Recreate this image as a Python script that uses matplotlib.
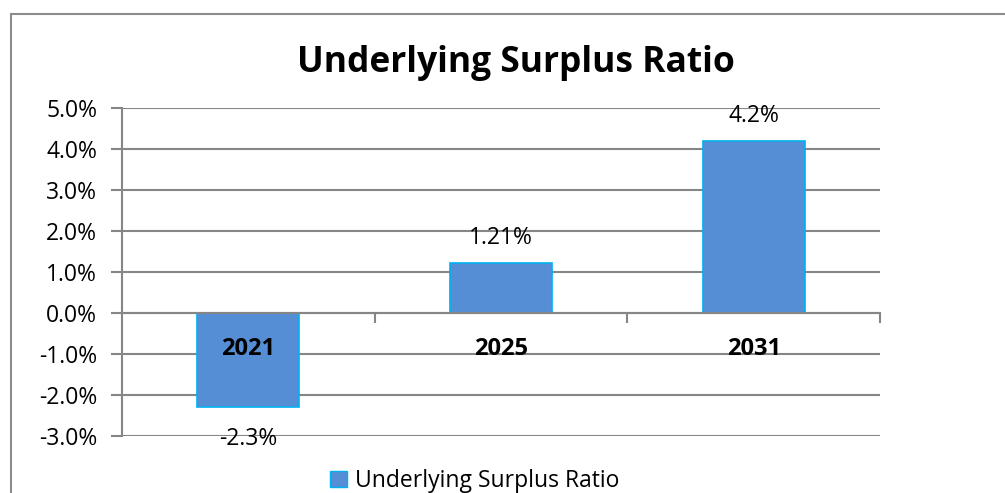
import matplotlib
matplotlib.use("Agg")
import matplotlib.pyplot as plt
from matplotlib.patches import Rectangle, Patch
from matplotlib.ticker import FuncFormatter

plt.rcParams["font.family"] = ["Open Sans", "DejaVu Sans"]

years = ["2021", "2025", "2031"]
ratio = [-2.3, 1.21, 4.2]
value_labels = ["-2.3%", "1.21%", "4.2%"]

BAR = "#558ED5"
EDGE = "#00B0F0"
GRID = "#868686"

fig = plt.figure(figsize=(10.05, 4.93), dpi=100)
fig.patch.set_facecolor("white")
fig.patches.append(Rectangle((11 / 1005, -0.1), 1.2, 1.1 - 14 / 493,
                             transform=fig.transFigure, fill=False,
                             edgecolor="#8c8c8c", linewidth=1.5))

ax = fig.add_axes([122 / 1005, 1 - 436 / 493, 758 / 1005, 328 / 493])
x = list(range(len(years)))
ax.bar(x, ratio, width=0.405, color=BAR, edgecolor=EDGE, linewidth=1.2, zorder=3)

ax.set_xlim(-0.5, 2.5)
ax.set_ylim(-3, 5)
ax.set_yticks(range(-3, 6))
ax.yaxis.set_major_formatter(FuncFormatter(lambda v, _: f"{v:.1f}%"))
ax.grid(axis="y", color=GRID, linewidth=1.5, zorder=0)
ax.set_axisbelow(True)

for s in ["top", "right"]:
    ax.spines[s].set_visible(False)
ax.spines["left"].set_color(GRID)
ax.spines["left"].set_linewidth(1.5)
ax.spines["bottom"].set_position(("data", 0))
ax.spines["bottom"].set_color(GRID)
ax.spines["bottom"].set_linewidth(1.5)
ax.spines["bottom"].set_zorder(4)

ax.tick_params(axis="y", length=8, width=1.5, color=GRID, labelsize=16.5, pad=10)
ax.set_xticks([0.5, 1.5, 2.5])
ax.set_xticklabels([])
ax.tick_params(axis="x", length=7, width=1.5, color=GRID, direction="out")

# category labels sit just under the zero line, drawn above the bars
for i, yr in enumerate(years):
    ax.text(i, -0.875, yr, ha="center", va="center", fontsize=17,
            fontweight="bold", zorder=6)

for i, (v, lab) in enumerate(zip(ratio, value_labels)):
    off = 18 if v >= 0 else -23
    ax.annotate(lab, (i, v), xytext=(0, off), textcoords="offset points",
                ha="center", va="center", fontsize=16.5, zorder=5)

fig.text(516 / 1005, 1 - 63 / 493, "Underlying Surplus Ratio",
         ha="center", va="center", fontsize=25.5, fontweight="bold")

fig.legend(handles=[Patch(facecolor=BAR, edgecolor=EDGE, label="Underlying Surplus Ratio")],
           loc="center", bbox_to_anchor=(475 / 1005, 12 / 493), frameon=False,
           fontsize=16.5, handlelength=0.75, handleheight=0.75, handletextpad=0.35)

fig.savefig("out.png", dpi=100)
